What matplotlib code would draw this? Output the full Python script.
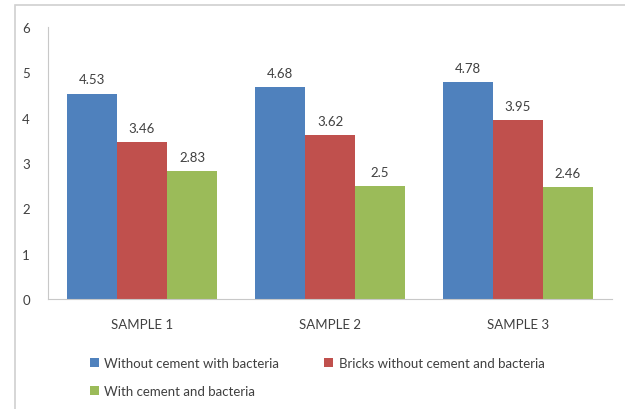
import numpy as np
import matplotlib.pyplot as plt
from matplotlib.patches import Rectangle

plt.rcParams['font.family'] = ['Lato', 'DejaVu Sans']

samples = ['SAMPLE 1', 'SAMPLE 2', 'SAMPLE 3']
series_names = ['Without cement with bacteria',
                'Bricks without cement and bacteria',
                'With cement and bacteria']
no_cement_bact = [4.53, 4.68, 4.78]
bricks_plain = [3.46, 3.62, 3.95]
cement_bact = [2.83, 2.5, 2.46]
colors = ['#4f81bd', '#c0504d', '#9bbb59']

txt = '#404040'
fig = plt.figure(figsize=(6.25, 4.1), dpi=100)
# outer chart border
fig.patches.append(Rectangle((15/625, -0.05), 1.0, 1 - 6/410 + 0.05,
                             transform=fig.transFigure, fill=False,
                             edgecolor='#d0d0d0', linewidth=1.2))

ax = fig.add_axes([48/625, 1 - 300/410, (612 - 48)/625, (300 - 28)/410])
x = np.arange(len(samples))
w = 0.266
bars = []
for i, (vals, c) in enumerate(zip([no_cement_bact, bricks_plain, cement_bact], colors)):
    b = ax.bar(x + (i - 1) * w, vals, w, color=c, label=series_names[i])
    bars.append(b)
    for xi, v in zip(x + (i - 1) * w, vals):
        ax.text(xi, v + 0.18, f'{v:g}', ha='center', va='bottom',
                fontsize=9.5, color=txt)

ax.set_xlim(-0.5, 2.5)
ax.set_ylim(0, 6)
ax.set_yticks(range(7))
ax.set_xticks(x)
ax.set_xticklabels(samples)
for s in ['top', 'right']:
    ax.spines[s].set_visible(False)
for s in ['left', 'bottom']:
    ax.spines[s].set_color('#c8c8c8')
ax.tick_params(axis='both', length=0, colors=txt, labelsize=9.5)
ax.tick_params(axis='y', pad=13)
ax.tick_params(axis='x', pad=14)

handles = [bars[0], bars[2], bars[1]]
labels = [series_names[0], series_names[2], series_names[1]]
fig.legend(handles, labels, ncol=2, loc='upper left',
           bbox_to_anchor=(78/625, 1 - 346/410), frameon=False,
           fontsize=9.5, labelcolor=txt, handlelength=0.7, handleheight=0.7,
           handletextpad=0.4, columnspacing=3.4, labelspacing=1.25)

fig.savefig('out.png', dpi=100, facecolor='white')
